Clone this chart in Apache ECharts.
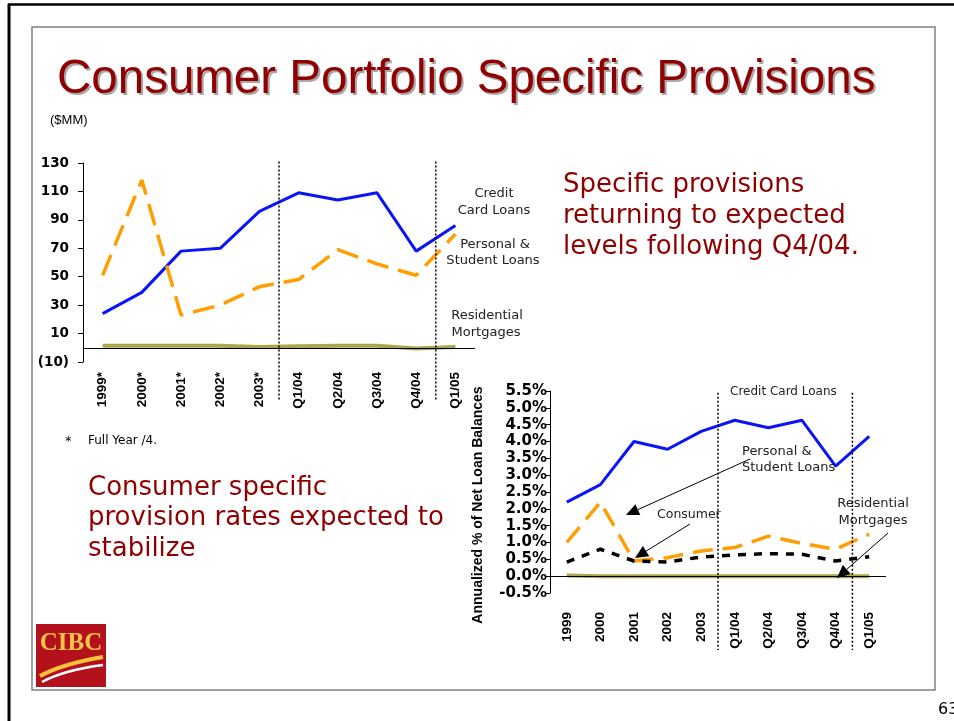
<!DOCTYPE html>
<html>
<head>
<meta charset="utf-8">
<script src="https://cdn.jsdelivr.net/npm/echarts/dist/echarts.min.js"></script>
<style>
  html, body { margin: 0; padding: 0; background: #fff; }
  #myChart { width: 954px; height: 721px; }
</style>
</head>
<body>
<div id="myChart"></div>
<script>
// left chart: $MM, quarterly (years are full year / 4)
var leftCats = ['1999*', '2000*', '2001*', '2002*', '2003*', 'Q1/04', 'Q2/04', 'Q3/04', 'Q4/04', 'Q1/05']
var creditCardMM = [24, 39, 68, 70, 96, 109, 104, 109, 68, 86]
var personalMM = [51, 118, 23, 30, 43, 48, 69, 59, 51, 80]
var mortgageMM = [1.5, 1.5, 1.5, 1.5, 0.5, 1, 1.5, 1.5, -0.5, 0.5]
var leftTicks = [-10, 10, 30, 50, 70, 90, 110, 130]

// right chart: annualized % of net loan balances
var rightCats = ['1999', '2000', '2001', '2002', '2003', 'Q1/04', 'Q2/04', 'Q3/04', 'Q4/04', 'Q1/05']
var creditCardPct = [2.2, 2.72, 4.0, 3.77, 4.3, 4.63, 4.41, 4.63, 3.27, 4.15]
var personalPct = [1.0, 2.2, 0.45, 0.55, 0.75, 0.85, 1.19, 0.97, 0.8, 1.25]
var consumerPct = [0.42, 0.8, 0.45, 0.42, 0.57, 0.63, 0.67, 0.65, 0.45, 0.58]
var mortgagePct = [0.02, 0, 0, 0, 0, 0, 0, 0, 0, 0]

var RED = '#900000'
var BLUE = '#0a14f5'
var ORANGE = '#ff9e00'
var OLIVE = '#a9a84c'
var catFont = { color: '#000', fontFamily: 'Liberation Sans', fontWeight: 'bold', fontSize: 13.5 }

function zeroLine() {
  return {
    silent: true,
    symbol: ['none', 'none'],
    label: { show: false },
    lineStyle: { color: '#000', width: 1, type: 'solid' },
    data: [{ yAxis: 0 }],
  }
}

var option = {
  animation: false,
  backgroundColor: '#fff',
  grid: [
    { left: 83, top: 163, width: 392, height: 199 },
    { left: 550, top: 391, width: 336, height: 202 },
  ],
  xAxis: [
    {
      type: 'category', gridIndex: 0, data: leftCats, boundaryGap: true,
      axisLine: { show: false }, axisTick: { show: false },
      axisLabel: Object.assign({ rotate: 90, margin: 10, interval: 0 }, catFont),
    },
    {
      type: 'category', gridIndex: 1, data: rightCats, boundaryGap: true,
      axisLine: { show: false }, axisTick: { show: false },
      axisLabel: Object.assign({ rotate: 90, margin: 19, interval: 0 }, catFont),
    },
  ],
  yAxis: [
    {
      type: 'value', gridIndex: 0, min: -10, max: 130,
      splitLine: { show: false },
      axisLine: { show: true, lineStyle: { color: '#000', width: 1 } },
      axisTick: { show: true, length: 5, customValues: leftTicks, lineStyle: { color: '#000' } },
      axisLabel: {
        margin: 14,
        customValues: leftTicks,
        color: '#000', fontFamily: 'DejaVu Sans', fontWeight: 'bold', fontSize: 13.5,
        formatter: function (v) { return v < 0 ? '(' + (-v) + ')' : String(v) },
      },
    },
    {
      type: 'value', gridIndex: 1, min: -0.5, max: 5.5, interval: 0.5,
      splitLine: { show: false },
      axisLine: { show: true, lineStyle: { color: '#000', width: 1 } },
      axisTick: { show: true, length: 5, lineStyle: { color: '#000' } },
      axisLabel: {
        margin: 3,
        color: '#000', fontFamily: 'DejaVu Sans', fontWeight: 'bold', fontSize: 15,
        formatter: function (v) { return v.toFixed(1) + '%' },
      },
    },
  ],
  series: [
    {
      name: 'Credit Card Loans', type: 'line', xAxisIndex: 0, yAxisIndex: 0, data: creditCardMM,
      symbol: 'none', lineStyle: { color: BLUE, width: 3 }, markLine: zeroLine(),
    },
    {
      name: 'Personal & Student Loans', type: 'line', xAxisIndex: 0, yAxisIndex: 0, data: personalMM,
      symbol: 'none', lineStyle: { color: ORANGE, width: 3.5, type: [22, 10] },
    },
    {
      name: 'Residential Mortgages', type: 'line', xAxisIndex: 0, yAxisIndex: 0, data: mortgageMM,
      symbol: 'none', lineStyle: { color: OLIVE, width: 4 },
    },
    {
      name: 'Credit Card Loans %', type: 'line', xAxisIndex: 1, yAxisIndex: 1, data: creditCardPct,
      symbol: 'none', lineStyle: { color: BLUE, width: 3 }, markLine: zeroLine(),
    },
    {
      name: 'Personal & Student Loans %', type: 'line', xAxisIndex: 1, yAxisIndex: 1, data: personalPct,
      symbol: 'none', lineStyle: { color: ORANGE, width: 3.5, type: [20, 10] },
    },
    {
      name: 'Consumer %', type: 'line', xAxisIndex: 1, yAxisIndex: 1, data: consumerPct,
      symbol: 'none', lineStyle: { color: '#000', width: 3.5, type: [8, 8] },
    },
    {
      name: 'Residential Mortgages %', type: 'line', xAxisIndex: 1, yAxisIndex: 1, data: mortgagePct,
      symbol: 'none', lineStyle: { color: OLIVE, width: 4 },
    },
  ],
}

var myChart = echarts.init(document.getElementById('myChart'), null, { renderer: 'canvas' })
myChart.setOption(option)

// small helpers for the slide decorations
function text(x, y, str, font, fill, align, extra) {
  return Object.assign({
    type: 'text', z: 100, x: x, y: y,
    style: { text: str, font: font, fill: fill || '#000', textAlign: align || 'left', textVerticalAlign: 'middle' },
  }, extra || {})
}
function arrow(x1, y1, x2, y2) {
  var a = Math.atan2(y2 - y1, x2 - x1)
  var L = 13, W = 6
  var bx = x2 - L * Math.cos(a), by = y2 - L * Math.sin(a)
  return [
    { type: 'line', z: 100, shape: { x1: x1, y1: y1, x2: bx, y2: by }, style: { stroke: '#000', lineWidth: 1 } },
    {
      type: 'polygon', z: 100,
      shape: { points: [[x2, y2], [bx + W * Math.sin(a), by - W * Math.cos(a)], [bx - W * Math.sin(a), by + W * Math.cos(a)]] },
      style: { fill: '#000' },
    },
  ]
}
function divider(xAxisIndex, yAxisIndex, cats, i, topVal, extra) {
  var xa = myChart.convertToPixel({ xAxisIndex: xAxisIndex }, cats[i])
  var xb = myChart.convertToPixel({ xAxisIndex: xAxisIndex }, cats[i + 1])
  var yTop = myChart.convertToPixel({ yAxisIndex: yAxisIndex }, topVal)
  var grid = option.grid[xAxisIndex]
  var x = (xa + xb) / 2
  return {
    type: 'line', z: 100,
    shape: { x1: x, y1: yTop, x2: x, y2: grid.top + grid.height + extra },
    style: { stroke: '#000', lineWidth: 1.5, lineDash: [2, 2] },
  }
}

var body = '13px "DejaVu Sans"'
var big = '26px "DejaVu Sans"'
var graphics = [
  // frame
  { type: 'line', shape: { x1: 8, y1: 4.5, x2: 954, y2: 4.5 }, style: { stroke: '#000', lineWidth: 2.5 } },
  { type: 'line', shape: { x1: 9, y1: 4, x2: 9, y2: 721 }, style: { stroke: '#000', lineWidth: 3 } },
  { type: 'rect', shape: { x: 32, y: 27, width: 903, height: 663 }, style: { fill: 'none', stroke: '#808080', lineWidth: 1.5 } },
  text(938, 710, '63', '16px "DejaVu Sans"', '#000'),
  // title with shadow
  text(59, 82, 'Consumer Portfolio Specific Provisions', '47.5px "Liberation Sans"', '#a8a8a8'),
  text(57, 80, 'Consumer Portfolio Specific Provisions', '47.5px "Liberation Sans"', RED),
  text(50, 120, '($MM)', '13px "Liberation Sans"', '#000'),
  // red commentary
  text(563, 185, 'Specific provisions', big, RED),
  text(563, 216, 'returning to expected', big, RED),
  text(563, 247, 'levels following Q4/04.', big, RED),
  text(88, 488, 'Consumer specific', big, RED),
  text(88, 518, 'provision rates expected to', big, RED),
  text(88, 549, 'stabilize', big, RED),
  text(65, 442, '*', body, '#000'),
  text(88, 441, 'Full Year /4.', '12px "DejaVu Sans"', '#000'),
  // left chart labels
  text(494, 194, 'Credit', body, '#222', 'center'),
  text(494, 211, 'Card Loans', body, '#222', 'center'),
  text(495, 245, 'Personal &', body, '#222', 'center'),
  text(493, 261, 'Student Loans', body, '#222', 'center'),
  text(487, 316, 'Residential', body, '#222', 'center'),
  text(486, 333, 'Mortgages', body, '#222', 'center'),
  // right chart labels
  text(478, 505, 'Annualized % of Net Loan Balances', 'bold 14px "Liberation Sans"', '#000', 'center', { rotation: Math.PI / 2 }),
  text(730, 392, 'Credit Card Loans', '12px "DejaVu Sans"', '#222'),
  text(742, 452, 'Personal &', body, '#222'),
  text(742, 468, 'Student Loans', body, '#222'),
  text(657, 515, 'Consumer', '12.5px "DejaVu Sans"', '#222'),
  text(873, 504, 'Residential', body, '#222', 'center'),
  text(873, 521, 'Mortgages', body, '#222', 'center'),
  // logo
  { type: 'rect', shape: { x: 36, y: 624, width: 70, height: 63 }, style: { fill: '#b3121c' } },
  text(71, 644, 'CIBC', 'bold 25px "Liberation Serif"', '#f7c24a', 'center'),
  { type: 'bezierCurve', shape: { x1: 40, y1: 676, cpx1: 62, cpy1: 664, x2: 103, y2: 657 }, style: { stroke: '#f9c23c', lineWidth: 4, fill: 'none' } },
  { type: 'bezierCurve', shape: { x1: 42, y1: 682, cpx1: 64, cpy1: 670, x2: 103, y2: 665 }, style: { stroke: '#ffffff', lineWidth: 2.5, fill: 'none' } },
]
graphics = graphics
  .concat(arrow(750, 459, 626, 515))
  .concat(arrow(690, 524, 635, 558))
  .concat(arrow(888, 533, 837, 578))
  .concat([
    divider(0, 0, leftCats, 4, 131, 38),
    divider(0, 0, leftCats, 8, 131, 38),
    divider(1, 1, rightCats, 4, 5.45, 57),
    divider(1, 1, rightCats, 8, 5.45, 57),
  ])

myChart.setOption({ graphic: graphics })
</script>
</body>
</html>
